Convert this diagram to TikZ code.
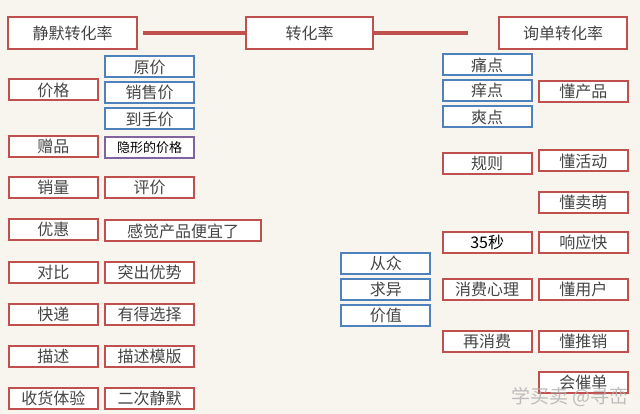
\documentclass[tikz,border=0pt]{standalone}
\usepackage{fontspec}
\newfontfamily\cjk{Noto Sans CJK SC}
\definecolor{bg}{HTML}{F8F5EF}
\definecolor{myred}{HTML}{C0504D}
\definecolor{myblue}{HTML}{4F81BD}
\definecolor{mypurple}{HTML}{8064A2}
\definecolor{txt}{HTML}{454545}
\tikzset{
  box/.style={draw, fill=white, line width=2pt, inner sep=0pt, text=txt,
    font=\cjk\fontsize{16}{16}\selectfont, minimum height=21pt},
  rbox/.style={box, draw=myred},
  bbox/.style={box, draw=myblue},
  pbox/.style={box, draw=mypurple, text=black, font=\cjk\fontsize{13}{13}\selectfont},
  col1/.style={minimum width=89pt},
  tbox/.style={rbox, minimum height=32pt},
  link/.style={draw=myred, line width=3.2pt}
}
\begin{document}
\begin{tikzpicture}[x=1pt,y=-1pt]
\fill[bg] (0,0) rectangle (640,414);
\useasboundingbox (0,0) rectangle (640,414);
% top row
\node[tbox, minimum width=129pt] (jm) at (72.5,33) {静默转化率};
\node[tbox, minimum width=127pt] (zh) at (309.5,33) {转化率};
\node[tbox, minimum width=128pt] (xd) at (563,33) {询单转化率};
\coordinate (rend) at (468,33);
\draw[link, shorten <=5pt] (jm.east) -- (zh.west);
\draw[link] (zh.east) -- (rend);
% left column
\node[rbox, col1] (jg) at (53.3,90) {价格};
\node[bbox, col1] (yj) at (149.5,67) {原价};
\node[bbox, col1] (xsj) at (149.5,92.8) {销售价};
\node[bbox, col1] (dsj) at (149.5,119) {到手价};
\node[rbox, col1] (zp) at (53.3,146.7) {赠品};
\node[pbox, col1] (yx) at (149.5,147.3) {隐形的价格};
\node[rbox, col1] (xl) at (53.3,187.5) {销量};
\node[rbox, col1] (pj) at (149.5,187.5) {评价};
\node[rbox, col1] (yh) at (53.3,229.7) {优惠};
\node[rbox, minimum width=156pt] (gj) at (183.2,231) {感觉产品便宜了};
\node[rbox, col1] (db) at (53.3,272.5) {对比};
\node[rbox, col1] (tc) at (149.5,272.5) {突出优势};
\node[rbox, col1] (kd) at (53.3,314.2) {快递};
\node[rbox, col1] (yd) at (149.5,314.2) {有得选择};
\node[rbox, col1] (ms) at (53.3,356.7) {描述};
\node[rbox, col1] (msm) at (149.5,356.7) {描述模版};
\node[rbox, col1] (sh) at (53.3,398.3) {收货体验};
\node[rbox, col1] (ec) at (149.5,398.3) {二次静默};
% middle column
\node[bbox, col1] (cz) at (385.8,263.7) {从众};
\node[bbox, col1] (qy) at (385.8,289) {求异};
\node[bbox, col1] (jz) at (385.8,315.3) {价值};
% right columns
\node[bbox, col1] (td) at (487.2,65) {痛点};
\node[bbox, col1] (yd2) at (487.2,90.8) {痒点};
\node[bbox, col1] (sd) at (487.2,117) {爽点};
\node[rbox, col1] (dcp) at (583.3,91.8) {懂产品};
\node[rbox, col1] (gz) at (487.2,163.2) {规则};
\node[rbox, col1] (dhd) at (583.3,161) {懂活动};
\node[rbox, col1] (dmm) at (583.3,202.7) {懂卖萌};
\node[rbox, col1, text=black] (ms35) at (487.2,242.2) {35秒};
\node[rbox, col1] (xyk) at (583.3,242.2) {响应快};
\node[rbox, col1] (xfxl) at (487.2,289.3) {消费心理};
\node[rbox, col1] (dyh) at (583.3,289.3) {懂用户};
\node[rbox, col1] (zxf) at (487.2,341.7) {再消费};
\node[rbox, col1] (dtx) at (583.3,341) {懂推销};
\node[rbox, col1] (hcd) at (583.3,382.7) {会催单};
% watermark
\node[text=gray!60, opacity=0.85, inner sep=0pt, font=\cjk\fontsize{19}{19}\selectfont] (wm) at (570,397) {学买卖 @寻峦};
\end{tikzpicture}
\end{document}
